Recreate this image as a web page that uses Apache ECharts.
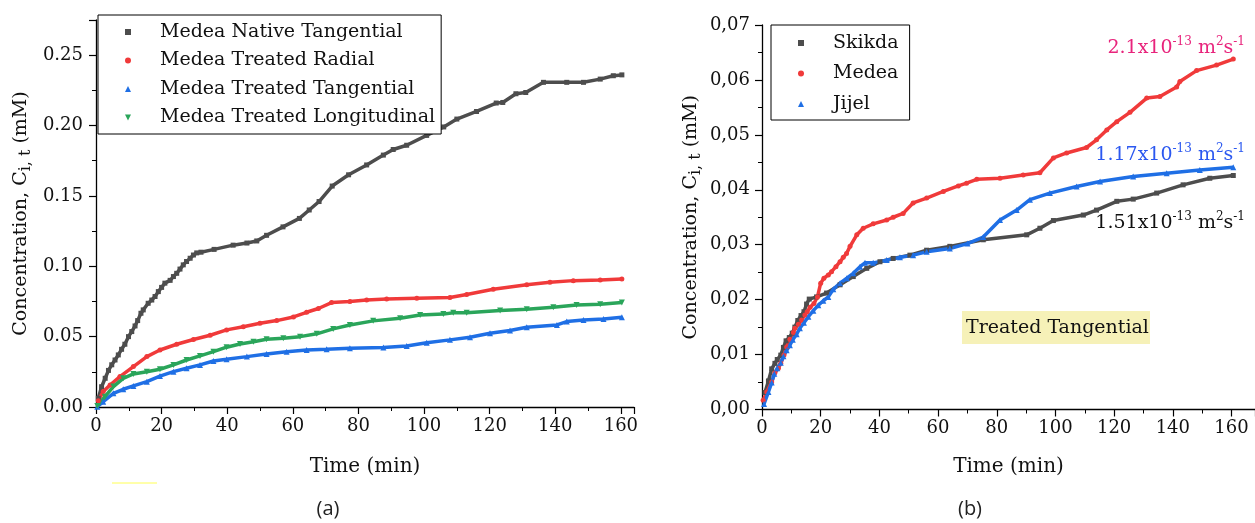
<!DOCTYPE html>
<html>
<head>
<meta charset="utf-8">
<script src="https://cdn.jsdelivr.net/npm/echarts@6/dist/echarts.min.js"></script>
<style>
html,body{margin:0;padding:0;background:#fff;}
#c{width:1255px;height:523px;}
</style>
</head>
<body>
<div id="c"></div>
<script>
// ---------- Chart (a) data ----------
const aNativeT = [0.7,1.7,2.8,3.8,4.8,5.8,6.8,7.8,8.8,9.9,10.9,11.9,12.7,13.7,14.4,15.9,17,18,19,20,21,22.6,23.6,24.6,25.6,26.6,27.6,28.7,29.7,30.7,32,36,41.8,46,49,52,57,62,65,68,72,77,82.5,87.6,90.6,94.7,100.8,106,110,116,122,124,128,131,136.4,143.5,148.6,153.7,157.7,160.3];
const aNativeV = [0.0062,0.0144,0.0204,0.026,0.030,0.0334,0.037,0.041,0.0446,0.050,0.0536,0.0576,0.0614,0.0666,0.069,0.0737,0.076,0.0785,0.082,0.085,0.088,0.090,0.0927,0.095,0.098,0.101,0.1034,0.1057,0.108,0.1095,0.110,0.112,0.115,0.1165,0.118,0.122,0.128,0.134,0.140,0.146,0.157,0.165,0.172,0.179,0.183,0.186,0.193,0.199,0.2046,0.210,0.216,0.2164,0.2226,0.2235,0.2307,0.2307,0.2307,0.233,0.2354,0.236];

const aRadialT = [0.7,2.2,4.3,7.3,11.4,15.5,19.5,24.6,29.7,34.8,39.8,44.9,50,55.1,60.2,64.2,67.8,71.8,77.4,82.5,88.6,97.8,107.9,113,121.1,131.3,138.4,145.5,153.7,160.3];
const aRadialV = [0.0045,0.011,0.0156,0.0216,0.0287,0.0358,0.0405,0.0446,0.048,0.051,0.0548,0.057,0.0595,0.0614,0.064,0.0673,0.070,0.0742,0.0749,0.0761,0.0768,0.0773,0.0778,0.080,0.0837,0.0868,0.0887,0.0898,0.0903,0.091];

const aTangT = [0.4,2.2,5.3,8.3,11.4,15.5,19.5,23.6,27.6,31.7,35.8,39.8,46,52,58.1,64.2,70.3,77.4,87.6,94.7,100.8,107.9,114,120.1,126.2,131.3,140.5,143.5,148.6,154.7,160.3];
const aTangV = [0.0002,0.0038,0.0097,0.0126,0.015,0.018,0.022,0.0251,0.0275,0.0299,0.0327,0.0339,0.0358,0.0377,0.0393,0.0405,0.041,0.0417,0.0422,0.0434,0.0457,0.0477,0.0496,0.0524,0.0543,0.0567,0.0583,0.0607,0.0619,0.0626,0.0638];

const aLongT = [0.4,2.7,5.3,8.3,11.4,15.5,19.5,23.6,27.6,31.7,35.8,39.8,43.9,48,52,57.1,62.2,67.3,72.3,77.4,84.5,92.7,98.8,105.9,108.9,113,123.2,131.3,139.4,146.5,153.7,160.3];
const aLongV = [0.0007,0.0073,0.0145,0.0204,0.0235,0.0251,0.0268,0.0299,0.0334,0.0363,0.0393,0.0425,0.0448,0.0464,0.0481,0.0489,0.050,0.052,0.0555,0.0583,0.0612,0.063,0.0654,0.066,0.067,0.067,0.0685,0.0695,0.0709,0.0725,0.073,0.0742];

const aNames = ['Medea Native Tangential','Medea Treated Radial','Medea Treated Tangential','Medea Treated Longitudinal'];

// ---------- Chart (b) data ----------
const bSkikdaT = [1,2.2,3.3,4.4,5.2,6.4,7.3,8.2,9.3,10.3,11.2,12.2,13.3,14.3,15.2,16.1,18.6,22,26.6,31.1,35.7,40.2,44.7,50.4,56.1,64,75.4,90.2,94.7,99.3,109.5,114,120.9,126.5,134.5,143.5,152.6,160.6];
const bSkikdaV = [0.0031,0.0052,0.0074,0.0084,0.0091,0.0099,0.0113,0.0125,0.0131,0.0139,0.015,0.0162,0.0171,0.0178,0.0192,0.0201,0.0205,0.0212,0.0227,0.0242,0.0257,0.0269,0.0275,0.0281,0.029,0.0297,0.0309,0.0318,0.033,0.0344,0.0354,0.0363,0.0379,0.0383,0.0394,0.0409,0.0421,0.0426];

const bMedeaT = [0.4,1.6,3.3,4.4,5.6,6.4,7.5,8.4,9.5,10.7,11.2,12.4,13.5,14.6,15.4,16.4,17.7,18.9,20,21.1,22.6,23.7,25.2,26.6,27.7,28.8,30,32.3,34.5,37.9,42.5,44.7,48.1,51.5,56.1,61.8,66.9,69.7,73.2,81.1,89,94.7,99.3,103.8,110.6,114,117.5,120.9,125.4,131.1,135.6,141.3,142.4,148.1,154.9,160.6];
const bMedeaV = [0.0017,0.0032,0.005,0.0067,0.0075,0.0084,0.0099,0.0114,0.0128,0.014,0.0148,0.0155,0.0163,0.0172,0.0178,0.0186,0.0193,0.0205,0.023,0.0239,0.0245,0.0251,0.026,0.0269,0.0277,0.0284,0.0297,0.0318,0.033,0.0338,0.0345,0.035,0.0357,0.0376,0.0385,0.0397,0.0407,0.0412,0.0419,0.0421,0.0427,0.0431,0.0458,0.0467,0.0477,0.0491,0.0509,0.0524,0.0541,0.0567,0.057,0.0587,0.0597,0.0617,0.0627,0.0638];

const bJijelT = [0.7,2.2,3.3,4.2,5.2,6.4,7.3,8.4,9.5,10.5,11.8,12.9,14.3,15.8,17.5,19.2,20.9,22.6,24.3,26.6,28.9,31.1,33.4,35.1,37.9,42.5,47,51.5,56.1,64,70,75.4,81.1,86.8,91.3,98.1,107.2,115.2,126.5,137.9,149.2,160.6];
const bJijelV = [0.001,0.0032,0.0049,0.0065,0.0075,0.0085,0.0097,0.0108,0.0117,0.0127,0.0137,0.0148,0.0158,0.0169,0.018,0.019,0.0198,0.0205,0.0219,0.023,0.0239,0.0248,0.026,0.0267,0.0267,0.0272,0.0277,0.0281,0.0287,0.0293,0.0302,0.0314,0.0345,0.0363,0.0382,0.0394,0.0406,0.0415,0.0424,0.043,0.0436,0.0441];

const bNames = ['Skikda','Medea','Jijel'];

// tick settings
const xTickStep = 20;
const aYTickStep = 0.05;
const bYTickStep = 0.01;

// ---------- rendering ----------
const SERIF = '"DejaVu Serif", "Liberation Serif", serif';
const C_GRAY = '#4d4d4d', C_RED = '#f03a3a', C_BLUE = '#1f6fe5', C_GREEN = '#2aa55a';
const SQ = 'path://M0,0L10,0L10,10L0,10Z';
const CI = 'path://M5,0A5,5,0,1,1,4.99,0Z';
const TU = 'path://M5,0L10,10L0,10Z';
const TD = 'path://M0,0L10,0L5,10Z';

function zip(t, v){ return t.map((x,i)=>[x, v[i]]); }
function isMult(v, s){ const r = v / s; return Math.abs(r - Math.round(r)) < 1e-6; }

function axisBase(){
  return {
    type:'value',
    axisLine:{show:true, onZero:false, lineStyle:{color:'#000', width:1.3}},
    axisTick:{show:true, length:7, lineStyle:{color:'#000', width:1.2}},
    minorTick:{show:true, splitNumber:2, length:4, lineStyle:{color:'#000', width:1}},
    splitLine:{show:false},
    minorSplitLine:{show:false},
    axisLabel:{fontFamily:SERIF, fontSize:18, color:'#111'},
    nameTextStyle:{fontFamily:SERIF, fontSize:20, color:'#111'}
  };
}

const yName = '{a|Concentration, C}{b|i, t}{a| (mM)}';
const yRich = {
  a:{fontFamily:SERIF, fontSize:19, color:'#111', lineHeight:26},
  b:{fontFamily:SERIF, fontSize:16, color:'#111', lineHeight:16, verticalAlign:'bottom'}
};

function mkSeries(name, t, v, color, symbol, size, xi){
  return {
    name, type:'line', xAxisIndex:xi, yAxisIndex:xi,
    data: zip(t, v), symbol, symbolSize:size, showSymbol:true,
    lineStyle:{color, width:3.5}, itemStyle:{color}, z:2,
    emphasis:{disabled:true}
  };
}

const chart = echarts.init(document.getElementById('c'), null, {renderer:'canvas'});

const xa0 = Object.assign(axisBase(), {
  gridIndex:0, min:0, max:164, interval:xTickStep, name:'Time (min)', nameLocation:'middle', nameGap:50
});
xa0.axisLabel = Object.assign({}, xa0.axisLabel, {margin:10, showMaxLabel:false, formatter:v=>isMult(v,xTickStep)?String(v):''});
const xa1 = Object.assign(axisBase(), {
  gridIndex:1, min:0, max:168, interval:xTickStep, name:'Time (min)', nameLocation:'middle', nameGap:47
});
xa1.axisLabel = Object.assign({}, xa1.axisLabel, {margin:10, showMaxLabel:false, formatter:v=>isMult(v,xTickStep)?String(v):''});

const ya0 = Object.assign(axisBase(), {
  gridIndex:0, min:0, max:0.275, interval:aYTickStep, name:yName, nameLocation:'middle', nameGap:62,
  nameTextStyle:{rich:yRich}
});
ya0.axisLabel = Object.assign({}, ya0.axisLabel, {margin:13, showMaxLabel:false, formatter:v=>isMult(v,aYTickStep)?v.toFixed(2):''});
const ya1 = Object.assign(axisBase(), {
  gridIndex:1, min:0, max:0.07, interval:bYTickStep, name:yName, nameLocation:'middle', nameGap:58,
  nameTextStyle:{rich:yRich}
});
ya1.axisLabel = Object.assign({}, ya1.axisLabel, {margin:12, formatter:v=>v.toFixed(2).replace('.', ',')});

const legendText = {fontFamily:SERIF, fontSize:19, color:'#111', lineHeight:19, padding:[0,0,0,24]};

function supText(txt, x, y, color){
  return {
    type:'text', x, y, z:10,
    style:{
      text:txt, fill:color, align:'right', verticalAlign:'middle',
      rich:{
        n:{fontFamily:SERIF, fontSize:19, fill:color, color:color, lineHeight:24},
        s:{fontFamily:SERIF, fontSize:12, fill:color, color:color, lineHeight:12, verticalAlign:'top'}
      }
    }
  };
}

chart.setOption({
  animation:false,
  backgroundColor:'#fff',
  grid:[
    {left:96, top:20, width:538, height:387},
    {left:762, top:25, width:493, height:384.5}
  ],
  xAxis:[xa0, xa1],
  yAxis:[ya0, ya1],
  legend:[
    {
      left:98, top:15, orient:'vertical', selectedMode:false,
      itemWidth:6, itemHeight:6, itemGap:9.5, symbolKeepAspect:true,
      padding:[7.5,6,7,27], borderColor:'#000', borderWidth:1, backgroundColor:'#fff',
      textStyle:legendText,
      data:[{name:aNames[0], icon:SQ},{name:aNames[1], icon:CI},{name:aNames[2], icon:TU},{name:aNames[3], icon:TD}]
    },
    {
      left:771, top:25, orient:'vertical', selectedMode:false,
      itemWidth:6, itemHeight:6, itemGap:11.5, symbolKeepAspect:true,
      padding:[8.5,11,6.5,27], borderColor:'#000', borderWidth:1, backgroundColor:'#fff',
      textStyle:legendText,
      data:[{name:bNames[0], icon:SQ},{name:bNames[1], icon:CI},{name:bNames[2], icon:TU}]
    }
  ],
  series:[
    mkSeries(aNames[0], aNativeT, aNativeV, C_GRAY, 'rect', 5, 0),
    mkSeries(aNames[1], aRadialT, aRadialV, C_RED, 'circle', 5, 0),
    mkSeries(aNames[2], aTangT, aTangV, C_BLUE, 'triangle', 6, 0),
    mkSeries(aNames[3], aLongT, aLongV, C_GREEN, TD, 6, 0),
    mkSeries(bNames[0], bSkikdaT, bSkikdaV, C_GRAY, 'rect', 5, 1),
    mkSeries(bNames[1], bMedeaT, bMedeaV, C_RED, 'circle', 5, 1),
    mkSeries(bNames[2], bJijelT, bJijelV, C_BLUE, 'triangle', 6, 1)
  ],
  graphic:[
    supText('{n|2.1x10}{s|-13}{n| m}{s|2}{n|s}{s|-1}', 1245, 48, '#e8247c'),
    supText('{n|1.17x10}{s|-13}{n| m}{s|2}{n|s}{s|-1}', 1245, 155, '#2b58f0'),
    supText('{n|1.51x10}{s|-13}{n| m}{s|2}{n|s}{s|-1}', 1245, 223, '#111'),
    {type:'rect', shape:{x:962, y:311, width:188, height:33}, style:{fill:'#f6f1b8'}, z:5},
    {type:'text', x:966, y:328, z:6, style:{text:'Treated Tangential', fill:'#111', font:'19px "DejaVu Serif"', align:'left', verticalAlign:'middle'}},
    {type:'text', x:328, y:509, z:6, style:{text:'(a)', fill:'#222', font:'20px "Open Sans"', align:'center', verticalAlign:'middle'}},
    {type:'text', x:970, y:509, z:6, style:{text:'(b)', fill:'#222', font:'20px "Open Sans"', align:'center', verticalAlign:'middle'}},
    {type:'line', shape:{x1:112, y1:483, x2:157, y2:483}, style:{stroke:'#ffff55', lineWidth:1}, z:1}
  ]
});
</script>
</body>
</html>
